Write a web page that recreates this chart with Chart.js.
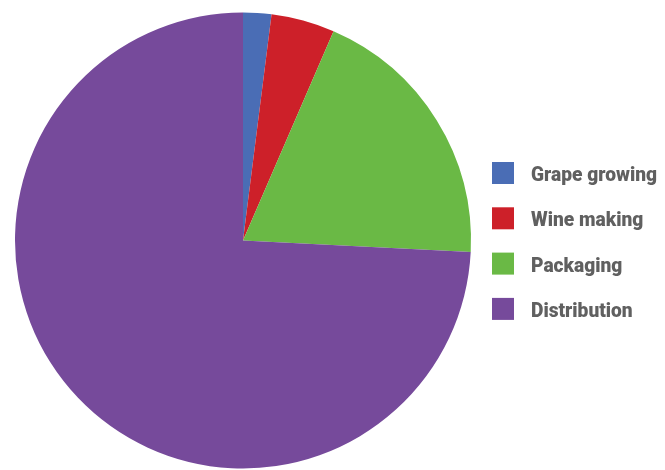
<!DOCTYPE html>
<html>
<head>
<meta charset="utf-8">
<script src="https://cdn.jsdelivr.net/npm/chart.js@4"></script>
<style>
  html, body { margin: 0; padding: 0; background: #fff; }
  #wrap { width: 665px; height: 470px; }
</style>
</head>
<body>
<div id="wrap"><canvas id="pie"></canvas></div>
<script>
const etapes = ["Grape growing", "Wine making", "Packaging", "Distribution"];
const parts = [2.0, 4.5, 19.3, 74.2];
const couleurs = ["#4a6db5", "#cd2029", "#6ab945", "#764a9b"];

// legende dessinee a la main (position comme sur l'original)
// police etroite : on tasse le texte horizontalement
const legendeDroite = {
  id: "legendeDroite",
  afterDraw(chart) {
    const ctx = chart.ctx;
    ctx.save();
    ctx.font = "900 21px Roboto, 'DejaVu Sans', sans-serif";
    ctx.textBaseline = "alphabetic";
    const sx = 126 / ctx.measureText("Grape growing").width;
    chart.data.labels.forEach((lab, i) => {
      const y = 162 + i * 45.3;
      ctx.fillStyle = chart.data.datasets[0].backgroundColor[i];
      ctx.fillRect(492, y, 22, 22);
      ctx.fillStyle = "#606060";
      ctx.save();
      ctx.translate(531, y + 19);
      ctx.scale(sx, 1);
      ctx.fillText(lab, 0, 0);
      ctx.restore();
    });
    ctx.restore();
  }
};

new Chart(document.getElementById("pie"), {
  type: "pie",
  data: {
    labels: etapes,
    datasets: [{
      data: parts,
      backgroundColor: couleurs,
      borderWidth: 0
    }]
  },
  options: {
    responsive: true,
    maintainAspectRatio: false,
    animation: false,
    layout: { padding: { left: 15, right: 194, top: 12.5, bottom: 1.5 } },
    plugins: {
      legend: { display: false },
      tooltip: { enabled: false }
    }
  },
  plugins: [legendeDroite]
});
</script>
</body>
</html>
